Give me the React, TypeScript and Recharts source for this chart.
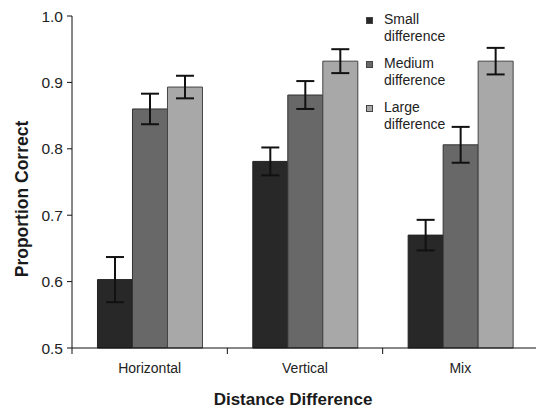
import { BarChart, Bar, XAxis, YAxis, ErrorBar, Legend, Label } from 'recharts';

const categories = ['Horizontal', 'Vertical', 'Mix'];
const seriesNames = ['Small difference', 'Medium difference', 'Large difference'];
const smallValues = [0.603, 0.781, 0.670];
const smallErrors = [0.034, 0.021, 0.023];
const mediumValues = [0.860, 0.881, 0.806];
const mediumErrors = [0.023, 0.021, 0.027];
const largeValues = [0.893, 0.932, 0.932];
const largeErrors = [0.017, 0.018, 0.020];
const yTicks = [0.5, 0.6, 0.7, 0.8, 0.9, 1.0];

const colors = ['#282828', '#686868', '#a8a8a8'];
const font = '"Liberation Sans", Arial, sans-serif';
const TICK_MARGIN = 15;

const data = categories.map((name, i) => ({
  name,
  small: smallValues[i],
  smallErr: smallErrors[i],
  medium: mediumValues[i],
  mediumErr: mediumErrors[i],
  large: largeValues[i],
  largeErr: largeErrors[i],
}));

// category label plus tick marks at the band boundaries (offset = half bandwidth from the scale)
function CategoryTick(props: any) {
  const { x, y, payload, index } = props;
  const half = payload?.offset ?? 0;
  const axisY = y - TICK_MARGIN;
  return (
    <g>
      <line x1={x - half} x2={x - half} y1={axisY} y2={axisY + 6} stroke="#111" />
      {index === categories.length - 1 && (
        <line x1={x + half} x2={x + half} y1={axisY} y2={axisY + 6} stroke="#111" />
      )}
      <text x={x} y={y} dy="0.71em" textAnchor="middle" fontSize={14} fill="#222" fontFamily={font}>
        {payload.value}
      </text>
    </g>
  );
}

function LegendBox() {
  return (
    <div style={{ fontFamily: font, fontSize: 14, color: '#222', lineHeight: '17px' }}>
      {seriesNames.map((name, i) => {
        const [first, second] = name.split(' ');
        return (
          <div key={name} style={{ display: 'flex', marginBottom: 10 }}>
            <div style={{ width: 7, height: 7, background: colors[i], border: '1px solid #444', boxSizing: 'border-box', marginTop: 6, marginRight: 11, flexShrink: 0 }} />
            <div>
              <div>{first}</div>
              <div>{second}</div>
            </div>
          </div>
        );
      })}
    </div>
  );
}

export default function App() {
  return (
    <div style={{ position: 'absolute', left: 0, top: 0, width: 536, height: 409, overflow: 'hidden', background: '#fff' }}>
      <BarChart
        width={540}
        height={409}
        data={data}
        margin={{ top: 16, right: 2, bottom: 0, left: 0 }}
        barGap={0}
        barCategoryGap="16.4%"
      >
        <XAxis
          dataKey="name"
          height={61}
          axisLine={{ stroke: '#111' }}
          tickLine={false}
          tickSize={0}
          tickMargin={TICK_MARGIN}
          tick={<CategoryTick />}
        >
          <Label
            value="Distance Difference"
            position="insideBottom"
            offset={4}
            dx={-12}
            style={{ fontSize: 17, fontWeight: 'bold', fill: '#1a1a1a', fontFamily: font }}
          />
        </XAxis>
        <YAxis
          width={72}
          domain={[0.5, 1.0]}
          ticks={yTicks}
          interval={0}
          tickFormatter={(v: number) => v.toFixed(1)}
          tickSize={5}
          tickMargin={4}
          axisLine={{ stroke: '#111' }}
          tickLine={{ stroke: '#111' }}
          tick={{ fontSize: 15.5, fill: '#222', fontFamily: font }}
        >
          <Label
            value="Proportion Correct"
            angle={-90}
            position="center"
            dx={-14}
            dy={17}
            style={{ fontSize: 17.5, fontWeight: 'bold', fill: '#1a1a1a', fontFamily: font, textAnchor: 'middle' }}
          />
        </YAxis>
        <Legend
          layout="horizontal"
          align="center"
          verticalAlign="middle"
          content={() => <LegendBox />}
          wrapperStyle={{ position: 'absolute', top: 11, left: 366, width: 130 }}
        />
        <Bar dataKey="small" name={seriesNames[0]} fill={colors[0]} stroke="#222" strokeWidth={1} isAnimationActive={false}>
          <ErrorBar dataKey="smallErr" width={9} stroke="#111" strokeWidth={2} />
        </Bar>
        <Bar dataKey="medium" name={seriesNames[1]} fill={colors[1]} stroke="#333" strokeWidth={1} isAnimationActive={false}>
          <ErrorBar dataKey="mediumErr" width={9} stroke="#111" strokeWidth={2} />
        </Bar>
        <Bar dataKey="large" name={seriesNames[2]} fill={colors[2]} stroke="#444" strokeWidth={1} isAnimationActive={false}>
          <ErrorBar dataKey="largeErr" width={9} stroke="#111" strokeWidth={2} />
        </Bar>
      </BarChart>
    </div>
  );
}
